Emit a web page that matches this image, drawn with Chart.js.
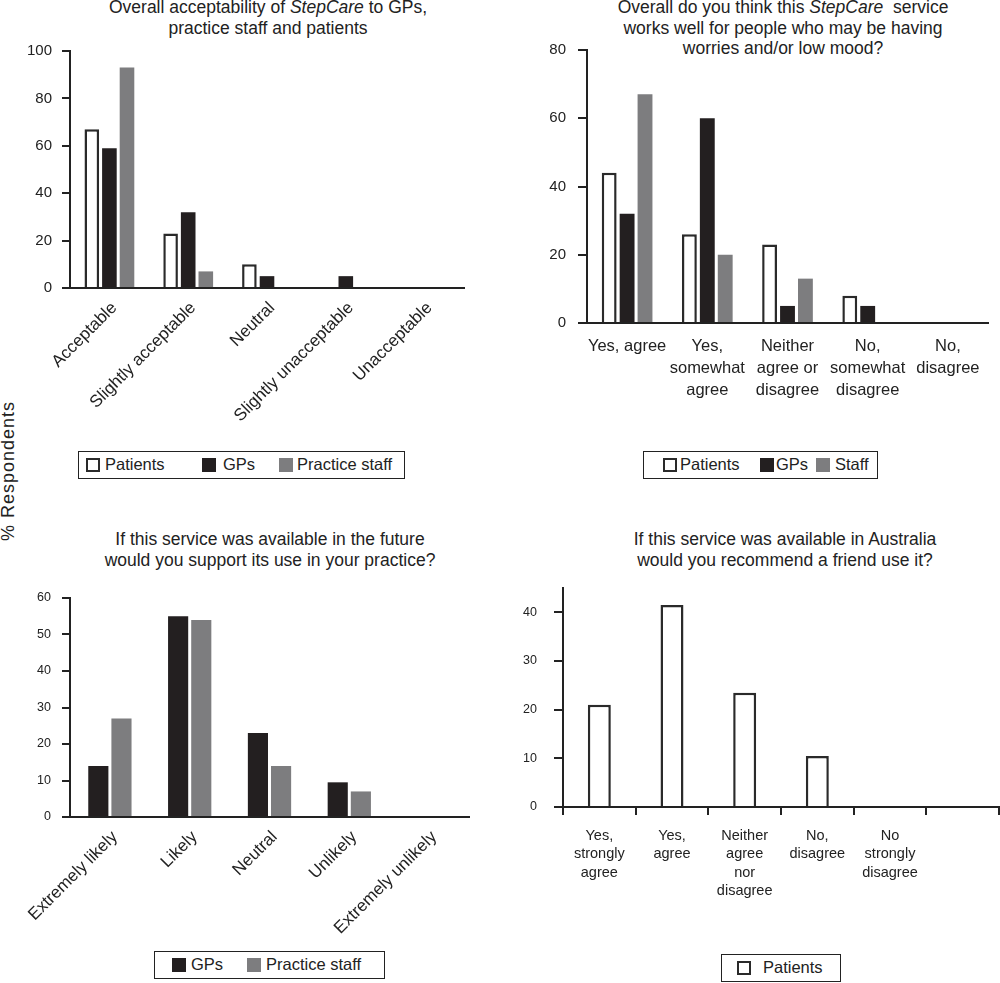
<!DOCTYPE html>
<html>
<head>
<meta charset="utf-8">
<script src="https://cdn.jsdelivr.net/npm/chart.js@4.4.0/dist/chart.umd.min.js"></script>
<style>
  body { margin: 0; width: 1000px; height: 983px; position: relative; background: #fff;
         font-family: "Liberation Sans", Arial, sans-serif; color: #222; overflow: hidden; }
  canvas { position: absolute; }
  .title { position: absolute; text-align: center; font-size: 17.5px; line-height: 20.5px;
           white-space: nowrap; transform: translateX(-50%); }
  .ylab { position: absolute; left: 8px; top: 471px; font-size: 18px; letter-spacing: 1px;
          white-space: nowrap; transform: translate(-50%, -50%) rotate(-90deg); }
  .legend { position: absolute; height: 28px; border: 1.5px solid #222; box-sizing: border-box;
            font-size: 16.5px; z-index: 2; background: #fff; }
  .legend span { position: absolute; }
  .legend .sw { top: 5.5px; width: 14px; height: 14px; box-sizing: border-box; }
  .legend .tx { top: 0; line-height: 25px; }
  .pat { background: #fff; border: 2.5px solid #2a2a2a; }
  .gp { background: #231f20; }
  .st { background: #7d7d7f; }
</style>
</head>
<body>

<div class="title" style="left:268px; top:-3px">Overall acceptability of <i>StepCare</i> to GPs,<br>practice staff and patients</div>
<div class="title" style="left:783px; top:-3px">Overall do you think this <i>StepCare</i>&nbsp; service<br>works well for people who may be having<br>worries and/or low mood?</div>
<div class="title" style="left:270px; top:529px">If this service was available in the future<br>would you support its use in your practice?</div>
<div class="title" style="left:785px; top:529px">If this service was available in Australia<br>would you recommend a friend use it?</div>
<div class="ylab">% Respondents</div>

<canvas id="c1" width="474" height="403" style="left:0; top:25px"></canvas>
<canvas id="c2" width="478" height="399" style="left:520px; top:24px"></canvas>
<canvas id="c3" width="479" height="385" style="left:0; top:572px"></canvas>
<canvas id="c4" width="480" height="355" style="left:520px; top:562px"></canvas>

<div class="legend" style="left:78px; top:451px; width:327px">
  <span class="sw pat" style="left:7px"></span><span class="tx" style="left:26px">Patients</span>
  <span class="sw gp" style="left:123px"></span><span class="tx" style="left:144px">GPs</span>
  <span class="sw st" style="left:200px"></span><span class="tx" style="left:218px">Practice staff</span>
</div>
<div class="legend" style="left:643px; top:451px; width:235px">
  <span class="sw pat" style="left:19px"></span><span class="tx" style="left:36px">Patients</span>
  <span class="sw gp" style="left:116px"></span><span class="tx" style="left:132px">GPs</span>
  <span class="sw st" style="left:172px"></span><span class="tx" style="left:191px">Staff</span>
</div>
<div class="legend" style="left:154px; top:951px; width:231px">
  <span class="sw gp" style="left:17px"></span><span class="tx" style="left:36px">GPs</span>
  <span class="sw st" style="left:92px"></span><span class="tx" style="left:111px">Practice staff</span>
</div>
<div class="legend" style="left:721px; top:954px; width:120px">
  <span class="sw pat" style="left:15px"></span><span class="tx" style="left:41px">Patients</span>
</div>

<script>
// valeurs (% de répondants)
const acceptLabels = ['Acceptable', 'Slightly acceptable', 'Neutral', 'Slightly unacceptable', 'Unacceptable'];
const acceptPatients = [67, 23, 10, 0, 0];
const acceptGPs = [59, 32, 5, 5, 0];
const acceptStaff = [93, 7, 0, 0, 0];
const acceptTicks = [0, 20, 40, 60, 80, 100];

const worksLabels = ['Yes, agree', ['Yes,', 'somewhat', 'agree'], ['Neither', 'agree or', 'disagree'],
                     ['No,', 'somewhat', 'disagree'], ['No,', 'disagree']];
const worksPatients = [44, 26, 23, 8, 0];
const worksGPs = [32, 60, 5, 5, 0];
const worksStaff = [67, 20, 13, 0, 0];
const worksTicks = [0, 20, 40, 60, 80];

const supportLabels = ['Extremely likely', 'Likely', 'Neutral', 'Unlikely', 'Extremely unlikely'];
const supportGPs = [14, 55, 23, 9.5, 0];
const supportStaff = [27, 54, 14, 7, 0];
const supportTicks = [0, 10, 20, 30, 40, 50, 60];

const recommendLabels = [['Yes,', 'strongly', 'agree'], ['Yes,', 'agree'], ['Neither', 'agree', 'nor', 'disagree'],
                         ['No,', 'disagree'], ['No', 'strongly', 'disagree'], ''];
const recommendPatients = [21, 41.5, 23.5, 10.5, 0, 0];
const recommendTicks = [0, 10, 20, 30, 40];

const FONT = '"Liberation Sans", Arial, sans-serif';
const INK = '#222';
Chart.defaults.font.family = FONT;
Chart.defaults.color = INK;

function patients(data, cp, bp) {
  return { data, backgroundColor: '#fff', borderColor: '#2a2a2a', borderWidth: 2.5,
           categoryPercentage: cp, barPercentage: bp };
}
function filled(data, color, cp, bp) {
  return { data, backgroundColor: color, borderWidth: 0, categoryPercentage: cp, barPercentage: bp };
}

// padding haut fixe : le plus grand paddingTop de l'axe y reste en dessous
function makeChart(id, labels, datasets, c) {
  const x = {
    afterFit: s => { s.height = c.xHeight; },
    grid: c.xTicks
      ? { display: true, drawOnChartArea: false, drawTicks: true, tickLength: 8, color: INK, lineWidth: 2, offset: true }
      : { display: false, drawTicks: false },
    border: { display: true, color: INK, width: 2 },
    ticks: { autoSkip: false, minRotation: c.rot, maxRotation: c.rot, padding: c.xPad,
             labelOffset: c.xShift || 0,
             font: { size: c.xFont, lineHeight: c.xLine }, color: INK }
  };
  const y = {
    min: 0, max: c.max,
    afterFit: s => { s.width = c.yWidth; },
    afterBuildTicks: s => { s.ticks = c.ticks.map(v => ({ value: v })); },
    grid: { drawOnChartArea: false, drawTicks: true, tickLength: c.tickLen, color: INK, lineWidth: 2 },
    border: { display: true, color: INK, width: 2 },
    ticks: { padding: c.yPad, font: { size: c.yFont }, color: INK }
  };
  return new Chart(document.getElementById(id), {
    type: 'bar',
    data: { labels, datasets },
    options: {
      responsive: false,
      animation: false,
      layout: { padding: { top: 26, right: c.padRight, left: 0, bottom: 0 } },
      plugins: { legend: { display: false }, tooltip: { enabled: false } },
      scales: { x, y }
    }
  });
}

makeChart('c1', acceptLabels, [
  patients(acceptPatients, 0.67, 0.83),
  filled(acceptGPs, '#231f20', 0.67, 0.83),
  filled(acceptStaff, '#7d7d7f', 0.67, 0.83)
], { xHeight: 140, rot: 45, xPad: 10, xShift: 5, xFont: 17, xLine: 1.2, max: 100, ticks: acceptTicks,
     yWidth: 70, tickLen: 8, yPad: 10, yFont: 15, padRight: 10 });

makeChart('c2', worksLabels, [
  patients(worksPatients, 0.67, 0.83),
  filled(worksGPs, '#231f20', 0.67, 0.83),
  filled(worksStaff, '#7d7d7f', 0.67, 0.83)
], { xHeight: 100, rot: 0, xPad: 13, xFont: 16.5, xLine: 1.32, max: 80, ticks: worksTicks,
     yWidth: 67, tickLen: 9, yPad: 12, yFont: 15, padRight: 10 });

makeChart('c3', supportLabels, [
  filled(supportGPs, '#231f20', 0.58, 0.87),
  filled(supportStaff, '#7d7d7f', 0.58, 0.87)
], { xHeight: 140, rot: 45, xPad: 10, xShift: 5, xFont: 17, xLine: 1.2, max: 60, ticks: supportTicks,
     yWidth: 70, tickLen: 8, yPad: 11, yFont: 12.5, padRight: 10 });

makeChart('c4', recommendLabels, [
  patients(recommendPatients, 0.8, 0.395)
], { xHeight: 110, rot: 0, xPad: 12, xFont: 14.5, xLine: 1.26, xTicks: true, max: 45, ticks: recommendTicks,
     yWidth: 43, tickLen: 9, yPad: 17, yFont: 12.5, padRight: 1 });
</script>
</body>
</html>
